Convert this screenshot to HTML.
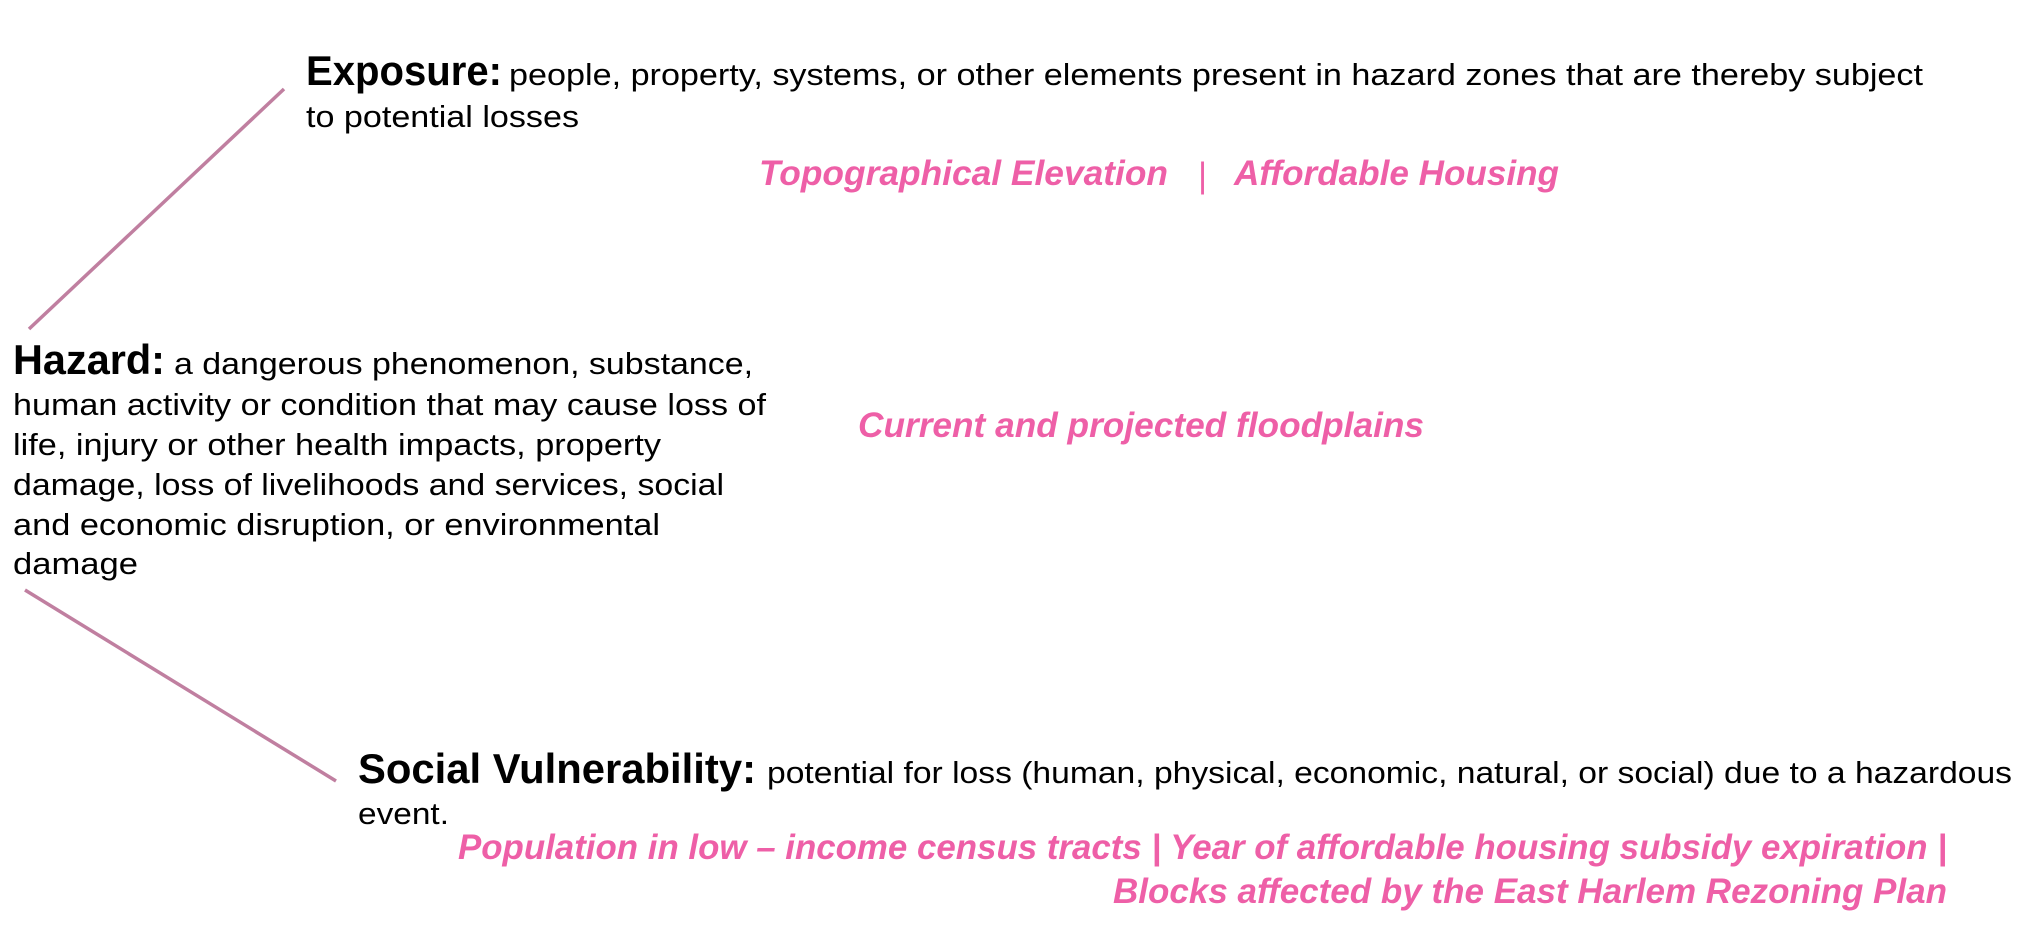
<!DOCTYPE html>
<html><head><meta charset="utf-8"><style>
html,body{margin:0;padding:0;background:#fff;width:2042px;height:926px;overflow:hidden}
svg{display:block}
.b{font-family:"Liberation Sans",sans-serif;font-weight:bold;fill:#000;font-size:42px}
.t{font-family:"Liberation Sans",sans-serif;fill:#000;font-size:31px}
.p{font-family:"Liberation Sans",sans-serif;font-weight:bold;font-style:italic;fill:#ee5fa7;font-size:35px}
</style></head><body>
<svg width="2042" height="926" viewBox="0 0 2042 926">
<line x1="284" y1="89" x2="29" y2="329" stroke="#c07fa0" stroke-width="3.5"/>
<line x1="25" y1="590" x2="336" y2="781" stroke="#c07fa0" stroke-width="3.5"/>

<g>
<text class="b" x="306" y="85" textLength="196" lengthAdjust="spacingAndGlyphs">Exposure:</text>
<text class="t" x="509" y="85" textLength="1414" lengthAdjust="spacingAndGlyphs">people, property, systems, or other elements present in hazard zones that are thereby subject</text>
<text class="t" x="306" y="127" textLength="273" lengthAdjust="spacingAndGlyphs">to potential losses</text>
</g>
<g>
<text class="p" x="759" y="185" textLength="409" lengthAdjust="spacingAndGlyphs">Topographical Elevation</text>
<text class="p" x="1198" y="187" style="font-style:normal;font-weight:normal">|</text>
<text class="p" x="1234" y="185" textLength="325" lengthAdjust="spacingAndGlyphs">Affordable Housing</text>
</g>

<g>
<text class="b" x="13" y="374" textLength="152" lengthAdjust="spacingAndGlyphs">Hazard:</text>
<text class="t" x="174" y="374" textLength="579" lengthAdjust="spacingAndGlyphs">a dangerous phenomenon, substance,</text>
<text class="t" x="13" y="415" textLength="753" lengthAdjust="spacingAndGlyphs">human activity or condition that may cause loss of</text>
<text class="t" x="13" y="455" textLength="648" lengthAdjust="spacingAndGlyphs">life, injury or other health impacts, property</text>
<text class="t" x="13" y="495" textLength="711" lengthAdjust="spacingAndGlyphs">damage, loss of livelihoods and services, social</text>
<text class="t" x="13" y="535" textLength="647" lengthAdjust="spacingAndGlyphs">and economic disruption, or environmental</text>
<text class="t" x="13" y="574" textLength="125" lengthAdjust="spacingAndGlyphs">damage</text>
</g>
<text class="p" x="858" y="437" textLength="566" lengthAdjust="spacingAndGlyphs">Current and projected floodplains</text>

<g>
<text class="b" x="358" y="783" textLength="398" lengthAdjust="spacingAndGlyphs">Social Vulnerability:</text>
<text class="t" x="767" y="783" textLength="1245" lengthAdjust="spacingAndGlyphs">potential for loss (human, physical, economic, natural, or social) due to a hazardous</text>
<text class="t" x="358" y="824" textLength="91" lengthAdjust="spacingAndGlyphs">event.</text>
</g>
<g>
<text class="p" x="458" y="859" textLength="1489" lengthAdjust="spacingAndGlyphs">Population in low – income census tracts | Year of affordable housing subsidy expiration |</text>
<text class="p" x="1113" y="903" textLength="834" lengthAdjust="spacingAndGlyphs">Blocks affected by the East Harlem Rezoning Plan</text>
</g>
</svg>
</body></html>
